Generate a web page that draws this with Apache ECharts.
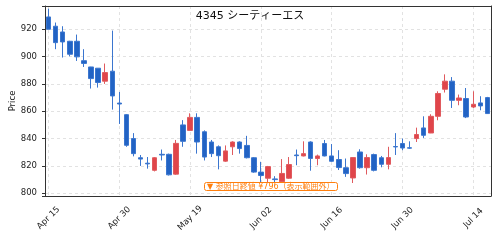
<!DOCTYPE html>
<html>
<head>
<meta charset="utf-8">
<script src="https://cdn.jsdelivr.net/npm/echarts@6/dist/echarts.min.js"></script>
<style>
  html, body { margin: 0; padding: 0; background: #fff; }
  #chart { width: 500px; height: 241px; }
</style>
</head>
<body>
<div id="chart"></div>
<script>
// trading days (one label per candle)
var dates = ['Apr 15','Apr 16','Apr 17','Apr 18','Apr 21','Apr 22','Apr 23','Apr 24','Apr 25','Apr 28',
  'Apr 30','May 01','May 07','May 08','May 09','May 12','May 13','May 14','May 15','May 16',
  'May 19','May 20','May 21','May 22','May 23','May 26','May 27','May 28','May 29','May 30',
  'Jun 02','Jun 03','Jun 04','Jun 05','Jun 06','Jun 09','Jun 10','Jun 11','Jun 12','Jun 13',
  'Jun 16','Jun 17','Jun 18','Jun 19','Jun 20','Jun 23','Jun 24','Jun 25','Jun 26','Jun 27',
  'Jun 30','Jul 01','Jul 02','Jul 03','Jul 04','Jul 07','Jul 08','Jul 09','Jul 10','Jul 11',
  'Jul 14','Jul 15','Jul 16'];

var opens = [929, 922.2, 918, 911.2, 911.2, 897, 892.4, 891.5, 882, 889.3,
  866, 857.5, 840, 826, 822, 816.8, 828.5, 828.5, 814, 850,
  846, 855.5, 845, 837.5, 834, 823.5, 834, 837.5, 835, 826,
  815.5, 811, 810.5, 808.5, 811, 828, 827.3, 837.5, 825.4, 836.4,
  827.3, 824.7, 818.7, 811.2, 830.2, 818.7, 828.3, 826, 821.2, 834.2,
  836.4, 833.3, 840, 847.8, 844.1, 856.3, 876.1, 882, 868, 869.3,
  863.1, 866.1, 870];

var closes = [920, 910.2, 910.7, 901.7, 899.8, 895, 883.9, 881, 888.3, 871.2,
  865.3, 835.1, 829, 825, 821.5, 826, 828, 813.5, 836.5, 838,
  855.5, 837.5, 826.5, 829, 827.5, 831, 837.5, 832.7, 826, 815.5,
  813, 819.5, 810, 814.5, 821, 827.5, 829, 825.5, 827.3, 827.3,
  823.4, 818.8, 814.4, 826.1, 818.7, 826.1, 816.8, 821.2, 826.1, 833.9,
  833.1, 833, 843, 842.4, 856.3, 873, 882, 868, 869.7, 855.8,
  865.1, 863.9, 858.3];

var lows = [920, 905.4, 899.3, 900.2, 896.8, 892.4, 876.6, 877.3, 880, 861.2,
  850.7, 834, 827, 820, 818, 816, 824, 813, 813.5, 834,
  846, 829, 824, 826.5, 817.5, 823, 828, 829, 825.5, 815,
  808, 805, 803.5, 808, 810.5, 820.5, 827, 816.5, 820.5, 827,
  823, 817, 812, 807.5, 818, 813.7, 816, 819, 817.5, 828,
  831.5, 832.5, 837.5, 840.5, 844, 853.4, 873.7, 862.4, 864.4, 855,
  862.4, 860.7, 858];

var highs = [935, 924.9, 922.2, 911.5, 916.1, 905.4, 892.5, 891.5, 894.9, 919,
  874.1, 858, 844, 828, 826.5, 826.5, 832, 829, 839, 853.5,
  858.5, 858.5, 846, 839, 835, 835, 838, 838, 842, 826.5,
  823, 820, 812.5, 825, 826.5, 832, 838, 838, 828.3, 839,
  836, 831.5, 825.4, 826.5, 832.2, 828.5, 829, 827.3, 834, 844,
  840, 838, 848, 856.3, 857.8, 874.6, 887, 885, 872.2, 877,
  874.6, 871, 870.5];

var refClose = 796;

var ohlc = opens.map(function (o, i) {
  return [o, closes[i], lows[i], highs[i]];
});

var font = 'DejaVu Sans, Noto Sans CJK JP, sans-serif';
function frame() {
  return { show: true, onZero: false, lineStyle: { color: '#333', width: 1 } };
}
function gridLines() {
  return { show: true, lineStyle: { color: '#e2e2e2', type: [3, 3] } };
}
var chart = echarts.init(document.getElementById('chart'));

chart.setOption({
  animation: false,
  textStyle: { fontFamily: font },
  title: [{
    text: '4345 シーティーエス',
    left: 'center',
    top: 11,
    padding: 0,
    textStyle: { fontFamily: font, fontSize: 11, fontWeight: 'normal', color: '#111' }
  }, {
    text: '▼ 参照日終値 ¥' + refClose + '（表示範囲外）',
    left: 204,
    top: 182,
    padding: [1, 3, 0, 3],
    borderColor: '#ff7f0e',
    borderWidth: 1,
    borderRadius: 2,
    backgroundColor: '#fff',
    textStyle: { fontFamily: font, fontSize: 8, fontWeight: 'normal', color: '#ff7f0e' }
  }],
  grid: { left: 45, right: 9, top: 6, bottom: 45, containLabel: false, outerBoundsMode: 'none' },
  xAxis: [{
    type: 'category',
    data: dates,
    boundaryGap: true,
    axisLine: frame(),
    axisTick: { alignWithLabel: true, interval: 9, length: 3, lineStyle: { color: '#333' } },
    axisLabel: {
      interval: 9, rotate: 45, fontSize: 8.5, color: '#222', margin: 22,
      align: 'center', verticalAlign: 'middle'
    },
    splitLine: { show: false }
  }, {
    // vertical grid lines and the top frame line
    type: 'value',
    min: -0.5,
    max: 62.5,
    splitNumber: 6,
    position: 'top',
    axisLine: frame(),
    axisTick: { show: false },
    axisLabel: { show: false },
    splitLine: gridLines()
  }],
  yAxis: [{
    type: 'value',
    min: 798,
    max: 937,
    splitNumber: 7,
    name: 'Price',
    nameLocation: 'middle',
    nameGap: 28,
    nameMoveOverlap: false,
    nameTextStyle: { fontSize: 8.5, color: '#222' },
    axisLine: frame(),
    axisTick: { show: true, length: 3, lineStyle: { color: '#333' } },
    axisLabel: {
      fontSize: 8.5, color: '#222', margin: 8,
      formatter: function (v) { return v % 20 === 0 ? v : ''; }
    },
    splitLine: gridLines()
  }, {
    type: 'value',
    min: 798,
    max: 937,
    position: 'right',
    axisLine: frame(),
    axisTick: { show: false },
    axisLabel: { show: false },
    splitLine: { show: false }
  }],
  series: [{
    type: 'candlestick',
    xAxisIndex: 0,
    yAxisIndex: 0,
    data: ohlc,
    barWidth: 5,
    itemStyle: {
      color: '#e0454a',
      color0: '#2263c4',
      borderColor: '#e05a5e',
      borderColor0: '#3b76cf',
      borderWidth: 1
    }
  }]
});
</script>
</body>
</html>
